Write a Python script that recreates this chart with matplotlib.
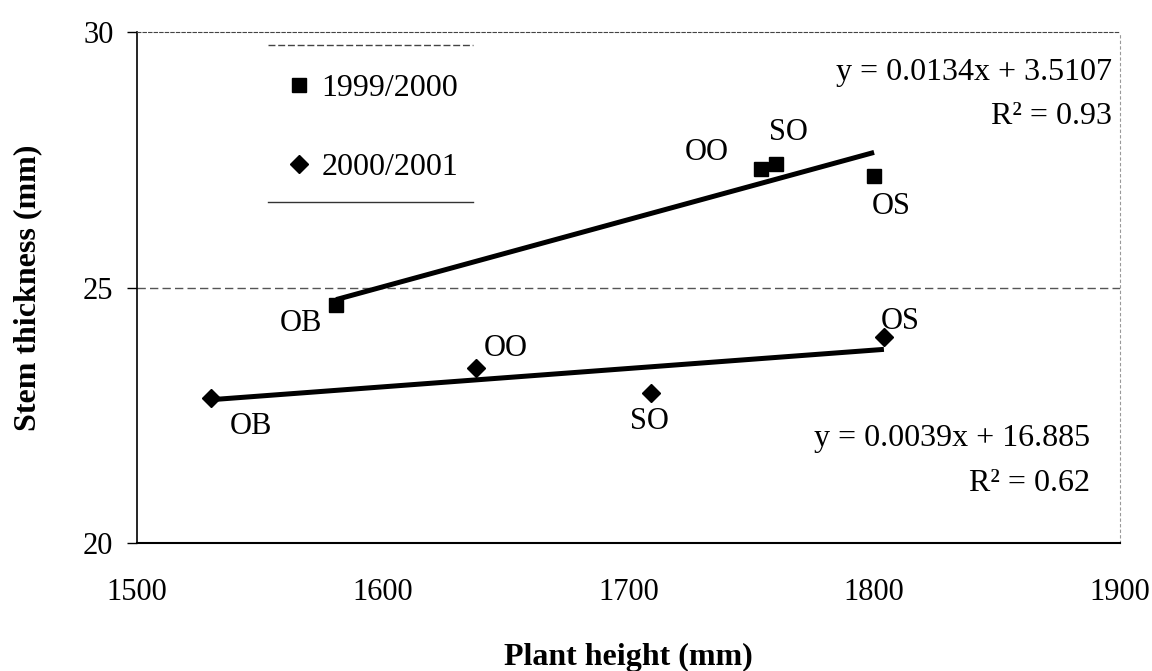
import numpy as np
import matplotlib
matplotlib.use("Agg")
import matplotlib.pyplot as plt

plt.rcParams['font.family'] = ['Liberation Serif', 'DejaVu Serif']

# 1999/2000 season (squares)
h_99 = [1581, 1754, 1760, 1800]
s_99 = [24.65, 27.32, 27.42, 27.18]
lab_99 = ['OB', 'OO', 'SO', 'OS']
# label offsets in points
off_99 = [(-25, -13), (-39, 12), (9, 23), (12, -22)]
eq_99 = ['y = 0.0134x + 3.5107', 'R² = 0.93']

# 2000/2001 season (diamonds)
h_00 = [1530, 1638, 1709, 1804]
s_00 = [22.84, 23.42, 22.94, 24.03]
lab_00 = ['OB', 'OO', 'SO', 'OS']
off_00 = [(29, -21), (21, 14), (-1, -21), (12, 11)]
eq_00 = ['y = 0.0039x + 16.885', 'R² = 0.62']

fig = plt.figure(figsize=(11.52, 6.71), dpi=100)
ax = fig.add_axes([0.119, 0.191, 0.853, 0.761])

def trend(ax, x, y):
    k, b = np.polyfit(x, y, 1)
    xs = np.array([min(x), max(x)])
    ax.plot(xs, k * xs + b, color='black', lw=3.6, solid_capstyle='butt', zorder=2)

trend(ax, h_99, s_99)
trend(ax, h_00, s_00)

ax.plot(h_99, s_99, 's', color='black', ms=10, ls='none', label='1999/2000', zorder=3)
ax.plot(h_00, s_00, 'D', color='black', ms=9.5, ls='none', label='2000/2001', zorder=3)

for x, y, t, o in zip(h_99, s_99, lab_99, off_99):
    ax.annotate(t, (x, y), xytext=o, textcoords='offset points',
                ha='center', va='center', fontsize=22)
for x, y, t, o in zip(h_00, s_00, lab_00, off_00):
    ax.annotate(t, (x, y), xytext=o, textcoords='offset points',
                ha='center', va='center', fontsize=22)

ax.text(0.992, 0.922, eq_99[0], transform=ax.transAxes, ha='right', va='center', fontsize=23)
ax.text(0.992, 0.834, eq_99[1], transform=ax.transAxes, ha='right', va='center', fontsize=23)
ax.text(0.970, 0.205, eq_00[0], transform=ax.transAxes, ha='right', va='center', fontsize=23)
ax.text(0.970, 0.117, eq_00[1], transform=ax.transAxes, ha='right', va='center', fontsize=23)

ax.set_xlim(1500, 1900)
ax.set_ylim(20, 30)
ax.set_xticks([1500, 1600, 1700, 1800, 1900])
ax.set_yticks([20, 25, 30])
ax.tick_params(axis='both', labelsize=22, direction='out', length=7, width=1)
ax.tick_params(axis='x', length=0, pad=25)
ax.tick_params(axis='y', pad=10)

# gridline at 25 and dotted top/right frame
ax.axhline(25, color='#555555', lw=1, ls=(0, (6, 3)), zorder=1)
ax.spines['top'].set_linestyle((0, (3, 2)))
ax.spines['top'].set_color('#444444')
ax.spines['right'].set_linestyle((0, (2, 3)))
ax.spines['right'].set_color('#999999')
ax.spines['left'].set_linewidth(1.2)
ax.spines['bottom'].set_linewidth(1.5)

ax.set_xlabel('Plant height (mm)', fontsize=23, fontweight='bold', labelpad=26)
ax.set_ylabel('Stem thickness (mm)', fontsize=23, fontweight='bold', labelpad=29)

ax.legend(loc='upper left', bbox_to_anchor=(0.152, 0.919), borderaxespad=0,
          frameon=False, fontsize=23, numpoints=1, handlelength=0.8,
          handletextpad=0.3, labelspacing=1.55, borderpad=0)
# top and bottom rules of legend box
ax.plot([0.133, 0.342], [0.975, 0.975], transform=ax.transAxes, color='#444444',
        lw=1, ls=(0, (5, 2)))
ax.plot([0.133, 0.342], [0.667, 0.667], transform=ax.transAxes, color='#333333', lw=1)

fig.savefig('out.png', dpi=100)
